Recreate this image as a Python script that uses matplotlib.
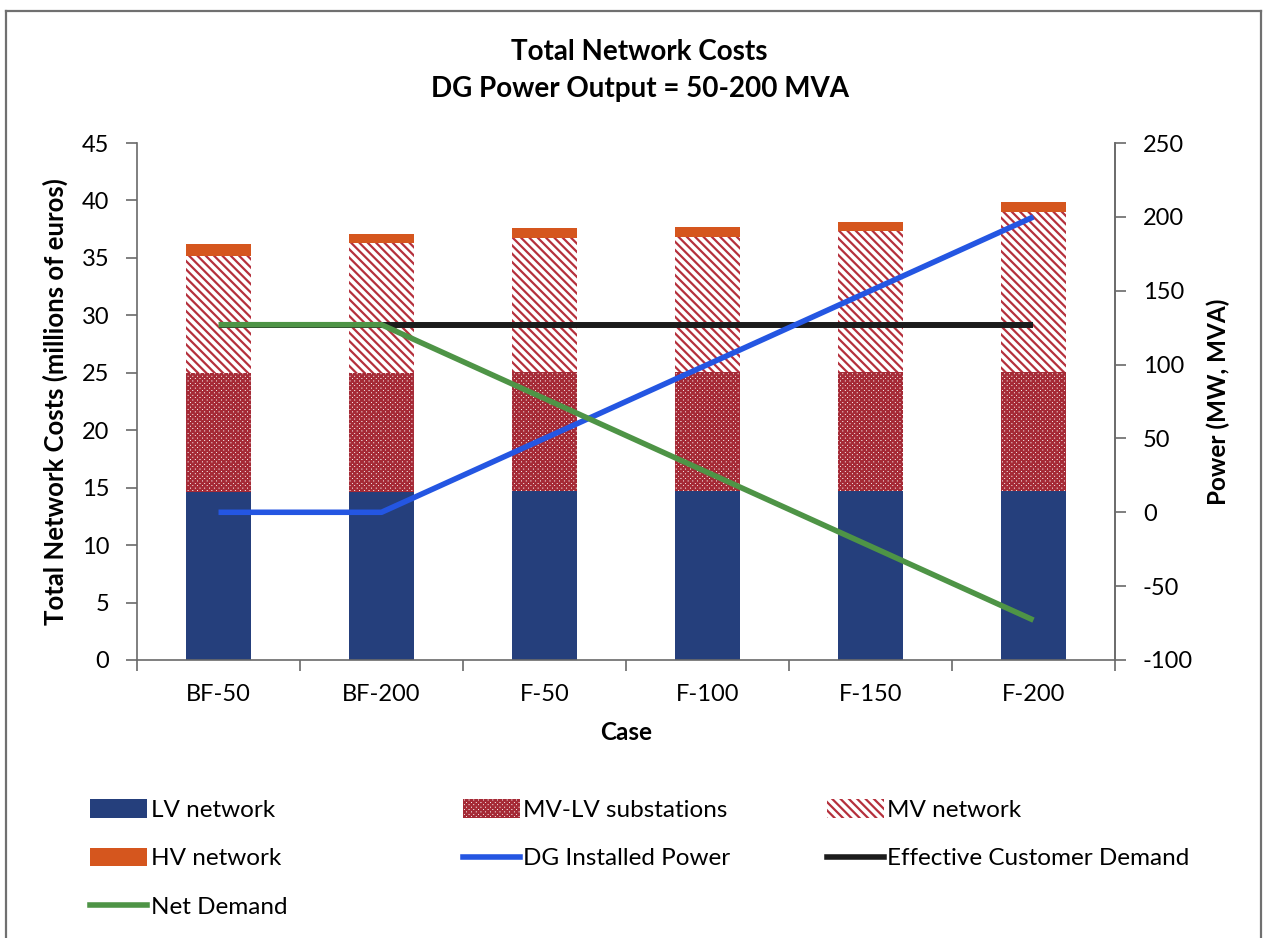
import numpy as np
import matplotlib.pyplot as plt
from matplotlib.patches import Patch
from matplotlib.lines import Line2D

plt.rcParams['font.family'] = ['Lato', 'DejaVu Sans']
plt.rcParams['hatch.linewidth'] = 1.6
plt.rcParams['axes.unicode_minus'] = False

cases = ["BF-50", "BF-200", "F-50", "F-100", "F-150", "F-200"]

# cost components, millions of euros (stacked bottom to top)
lv_network = [14.6, 14.6, 14.7, 14.7, 14.7, 14.7]
mv_lv_substations = [10.4, 10.4, 10.4, 10.4, 10.4, 10.4]
mv_network = [10.2, 11.3, 11.6, 11.7, 12.2, 13.9]
hv_network = [1.0, 0.8, 0.9, 0.9, 0.8, 0.9]

# power series, MW / MVA (right axis)
dg_installed = [0, 0, 50, 100, 150, 200]
customer_demand = [127, 127, 127, 127, 127, 127]
net_demand = [127, 127, 77, 27, -23, -73]

c_lv = '#253F7C'
c_mvlv = '#A52A36'
c_mv = '#B5303C'
c_hv = '#D5561E'
c_dg = '#2456E2'
c_dem = '#1C1C1C'
c_net = '#4E9446'
axis_col = '#6A6A6A'

hatch_mvlv = 'xxxxxxx'
hatch_mv = '\\\\\\\\'

fig = plt.figure(figsize=(12.64, 9.38), dpi=100)
ax = fig.add_axes([0.1084, 0.2964, 0.7737, 0.5511])

x = np.arange(len(cases))
w = 0.4
b1 = np.array(lv_network)
b2 = b1 + np.array(mv_lv_substations)
b3 = b2 + np.array(mv_network)

ax.bar(x, lv_network, w, color=c_lv, linewidth=0)
ax.bar(x, mv_lv_substations, w, bottom=b1, facecolor='white',
       edgecolor=c_mvlv, hatch=hatch_mvlv, linewidth=0)
ax.bar(x, mv_network, w, bottom=b2, facecolor='white',
       edgecolor=c_mv, hatch=hatch_mv, linewidth=0)
ax.bar(x, hv_network, w, bottom=b3, color=c_hv, linewidth=0)

ax.set_xlim(-0.5, 5.5)
ax.set_ylim(0, 45)
ax.set_yticks(np.arange(0, 46, 5))
ax.set_xticks(x)
ax.set_xticklabels(cases)
ax.set_xticks(np.arange(-0.5, 6, 1), minor=True)
ax.tick_params(axis='x', which='major', length=0, pad=17, labelsize=17)
ax.tick_params(axis='x', which='minor', length=8, direction='out',
               color=axis_col, width=1.2)
ax.tick_params(axis='y', length=8, width=1.2, color=axis_col, pad=12,
               labelsize=17)
ax.spines['top'].set_visible(False)
for s in ['left', 'bottom', 'right']:
    ax.spines[s].set_color(axis_col)
    ax.spines[s].set_linewidth(1.2)

ax.set_xlabel("Case", fontsize=17.5, fontweight='bold', labelpad=12)
ax.set_ylabel("Total Network Costs (millions of euros)", fontsize=18.5,
              fontweight='bold', labelpad=10)

ax2 = ax.twinx()
ax2.plot(x, customer_demand, color=c_dem, lw=4.3, solid_capstyle='butt')
ax2.plot(x, dg_installed, color=c_dg, lw=4.0, solid_capstyle='butt')
ax2.plot(x, net_demand, color=c_net, lw=4.0, solid_capstyle='butt')
ax2.set_ylim(-100, 250)
ax2.set_yticks(np.arange(-100, 251, 50))
ax2.tick_params(axis='y', length=8, width=1.2, color=axis_col, pad=12,
                labelsize=17)
for s in ['top', 'left', 'bottom']:
    ax2.spines[s].set_visible(False)
ax2.spines['right'].set_color(axis_col)
ax2.spines['right'].set_linewidth(1.2)
ax2.set_ylabel("Power (MW, MVA)", fontsize=17.5, fontweight='bold',
               labelpad=10)

fig.text(0.506, 0.945, "Total Network Costs", ha='center', va='center',
         fontsize=20, fontweight='bold')
fig.text(0.506, 0.905, "DG Power Output = 50-200 MVA", ha='center',
         va='center', fontsize=20, fontweight='bold')

# legend laid out as three columns
h_lv = Patch(facecolor=c_lv, linewidth=0, label="LV network")
h_hv = Patch(facecolor=c_hv, linewidth=0, label="HV network")
h_net = Line2D([], [], color=c_net, lw=4, label="Net Demand")
h_mvlv = Patch(facecolor='white', edgecolor=c_mvlv, hatch=hatch_mvlv,
               linewidth=0, label="MV-LV substations")
h_dg = Line2D([], [], color=c_dg, lw=4, label="DG Installed Power")
h_mv = Patch(facecolor='white', edgecolor=c_mv, hatch=hatch_mv, linewidth=0,
             label="MV network")
h_dem = Line2D([], [], color=c_dem, lw=4, label="Effective Customer Demand")

leg_kw = dict(loc='upper left', frameon=False, fontsize=17.5,
              handlelength=2.35, handleheight=0.8, handletextpad=0.15,
              labelspacing=1.1, borderaxespad=0, borderpad=0)
for handles, xa in [([h_lv, h_hv, h_net], 0.071),
                    ([h_mvlv, h_dg], 0.366),
                    ([h_mv, h_dem], 0.654)]:
    fig.legend(handles=handles, bbox_to_anchor=(xa, 0.148), **leg_kw)

# outer frame
fc = '#707070'
fig.add_artist(Line2D([0.005, 0.005], [0, 0.988], color=fc, lw=1.6))
fig.add_artist(Line2D([0.005, 0.9975], [0.988, 0.988], color=fc, lw=1.6))
fig.add_artist(Line2D([0.9975, 0.9975], [0, 0.988], color=fc, lw=1.6))

fig.savefig("out.png", dpi=100)
